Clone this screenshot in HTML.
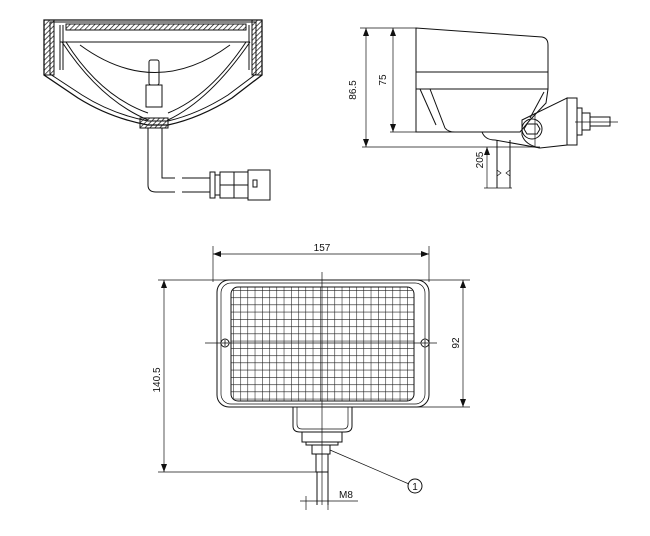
<!DOCTYPE html>
<html><head><meta charset="utf-8"><style>
html,body{margin:0;padding:0;background:#fff;}
svg{display:block;}
text{font-family:"Liberation Sans",sans-serif;font-size:10px;fill:#111;}
</style></head><body>
<svg width="650" height="536" viewBox="0 0 650 536" xmlns="http://www.w3.org/2000/svg">
<defs>
<pattern id="grid" x="233" y="290" width="7.25" height="7.25" patternUnits="userSpaceOnUse">
<path d="M0 0 V7.25 M0 0 H7.25" stroke="#1a1a1a" stroke-width="1.1" fill="none"/>
</pattern>
<pattern id="hatch" width="3.5" height="3.5" patternUnits="userSpaceOnUse" patternTransform="rotate(45)">
<path d="M0 0 V3.5" stroke="#111" stroke-width="1.4"/>
</pattern>
<marker id="ar" markerWidth="8" markerHeight="6" refX="8" refY="3" orient="auto-start-reverse" markerUnits="userSpaceOnUse">
<path d="M0 0 L8 3 L0 6 Z" fill="#111"/>
</marker>
</defs>
<g fill="none" stroke="#111" stroke-width="1">

<!-- LEFT: section view -->
<path d="M44 20 H262 V75 L232 98 Q200 118 168 125 H148 Q110 118 78 98 L44 75 Z" stroke-width="1.3"/>
<path d="M50 22 H256 V74 L228 95 Q198 114 168 121 H148 Q112 114 82 95 L50 74 Z"/>
<rect x="44" y="20" width="10" height="55" fill="url(#hatch)"/>
<rect x="252" y="20" width="10" height="55" fill="url(#hatch)"/>
<rect x="66" y="24" width="180" height="6" fill="url(#hatch)"/>
<line x1="66" y1="30" x2="246" y2="30"/>
<line x1="60" y1="42" x2="250" y2="42"/>
<path d="M62 42 Q100 100 148 120"/><path d="M250 42 Q210 100 168 120"/>
<path d="M66 42 Q100 96 148 113"/><path d="M246 42 Q210 96 168 113"/>
<path d="M80 45 Q155 100 230 45"/>
<line x1="60" y1="25" x2="60" y2="70"/><line x1="63" y1="25" x2="63" y2="70"/>
<line x1="249" y1="25" x2="249" y2="70"/><line x1="252" y1="25" x2="252" y2="70"/>
<rect x="149" y="60" width="10" height="25" rx="2"/>
<rect x="146" y="85" width="16" height="22"/>
<rect x="140" y="118" width="28" height="10" fill="url(#hatch)"/>
<path d="M148 128 V185 Q148 192 156 192 H175 M162 128 V178 H175"/>
<path d="M182 178 H210 M182 192 H210"/>
<rect x="210" y="172" width="5" height="26"/>
<rect x="215" y="175" width="5" height="20"/>
<rect x="220" y="172" width="28" height="26"/>
<line x1="234" y1="172" x2="234" y2="198"/><line x1="220" y1="185" x2="248" y2="185"/>
<rect x="248" y="170" width="22" height="30"/>
<rect x="253" y="180" width="4" height="7"/>

<!-- RIGHT: side view -->
<path d="M416 28 L542 37 Q548 38 548 45 V72 H416 Z"/>
<path d="M416 72 V89 H548 V72"/>
<path d="M416 89 L430 89 L445 128 Q448 132 455 132 H520 L530 120 L546 103 L548 89"/>
<path d="M416 89 V132 H455"/>
<line x1="420" y1="89" x2="436" y2="125"/>
<line x1="544" y1="92" x2="530" y2="118"/>
<circle cx="532" cy="129" r="10"/>
<polygon points="527,124 537,124 540,129 537,134 527,134 524,129"/>
<path d="M522 120 L567 98 V145 L540 148 Q525 145 522 135 Z"/>
<rect x="567" y="98" width="10" height="47"/>
<rect x="577" y="108" width="5" height="27"/>
<rect x="582" y="113" width="8" height="17"/>
<rect x="590" y="117" width="20" height="9"/>
<line x1="575" y1="122" x2="618" y2="122" stroke-width="0.7"/>
<line x1="535" y1="113" x2="535" y2="147" stroke-width="0.7"/>
<path d="M482 132 Q485 140 495 140 L540 148"/>
<line x1="497" y1="140" x2="497" y2="188"/><line x1="510" y1="140" x2="510" y2="188"/>
<path d="M497 170 l4 3 -4 3 M510 170 l-4 3 4 3" stroke-width="0.7"/>
<g stroke-width="0.7">
<line x1="360" y1="28" x2="416" y2="28"/>
<line x1="390" y1="132" x2="416" y2="132"/>
<line x1="362" y1="147" x2="540" y2="147"/>
<line x1="366" y1="28" x2="366" y2="147" marker-start="url(#ar)" marker-end="url(#ar)"/>
<line x1="393" y1="28" x2="393" y2="132" marker-start="url(#ar)" marker-end="url(#ar)"/>
<line x1="487" y1="147" x2="487" y2="188" marker-start="url(#ar)"/>
<line x1="484" y1="188" x2="512" y2="188"/>
</g>

<!-- BOTTOM: front view -->
<g stroke-width="0.7">
<line x1="213" y1="246" x2="213" y2="282"/>
<line x1="429" y1="246" x2="429" y2="282"/>
<line x1="213" y1="254" x2="429" y2="254" marker-start="url(#ar)" marker-end="url(#ar)"/>
<line x1="158" y1="280" x2="230" y2="280"/>
<line x1="158" y1="472" x2="318" y2="472"/>
<line x1="164" y1="280" x2="164" y2="472" marker-start="url(#ar)" marker-end="url(#ar)"/>
<line x1="410" y1="280" x2="470" y2="280"/>
<line x1="410" y1="407" x2="470" y2="407"/>
<line x1="463" y1="280" x2="463" y2="407" marker-start="url(#ar)" marker-end="url(#ar)"/>
<line x1="322" y1="272" x2="322" y2="505"/>
<line x1="205" y1="343" x2="437" y2="343"/>
<line x1="300" y1="501" x2="358" y2="501"/>
<line x1="306" y1="496" x2="306" y2="510"/><line x1="328" y1="496" x2="328" y2="510"/>
<line x1="330" y1="450" x2="409" y2="484"/>
</g>
<rect x="217" y="280" width="212" height="127" rx="12"/>
<rect x="221" y="283" width="204" height="121" rx="10" stroke-width="0.7"/>
<rect x="231" y="287" width="183" height="114" rx="7" fill="url(#grid)"/>
<circle cx="225" cy="343" r="4" fill="#fff"/><path d="M222 343 h6 M225 340 v6" stroke-width="0.8"/>
<circle cx="425" cy="343" r="4" fill="#fff"/><path d="M422 343 h6 M425 340 v6" stroke-width="0.8"/>
<path d="M293 407 V426 Q293 432 300 432 H345 Q352 432 352 426 V407"/>
<path d="M297 407 V424 Q297 429 302 429 H343 Q348 429 348 424 V407" stroke-width="0.7"/>
<rect x="302" y="432" width="40" height="10"/>
<rect x="306" y="442" width="32" height="3"/>
<rect x="312" y="445" width="18" height="9"/>
<rect x="316" y="454" width="12" height="18"/>
<line x1="317" y1="472" x2="317" y2="505"/><line x1="328" y1="472" x2="328" y2="505"/>
<circle cx="415" cy="486" r="7"/>
</g>
<text x="356" y="90" text-anchor="middle" transform="rotate(-90 356 90)">86.5</text>
<text x="386" y="80" text-anchor="middle" transform="rotate(-90 386 80)">75</text>
<text x="483" y="160" text-anchor="middle" transform="rotate(-90 483 160)">205</text>
<text x="322" y="251" text-anchor="middle">157</text>
<text x="160" y="380" text-anchor="middle" transform="rotate(-90 160 380)">140.5</text>
<text x="459" y="343" text-anchor="middle" transform="rotate(-90 459 343)">92</text>
<text x="346" y="498" text-anchor="middle">M8</text>
<text x="415" y="490" text-anchor="middle">1</text>
</svg>
</body></html>
